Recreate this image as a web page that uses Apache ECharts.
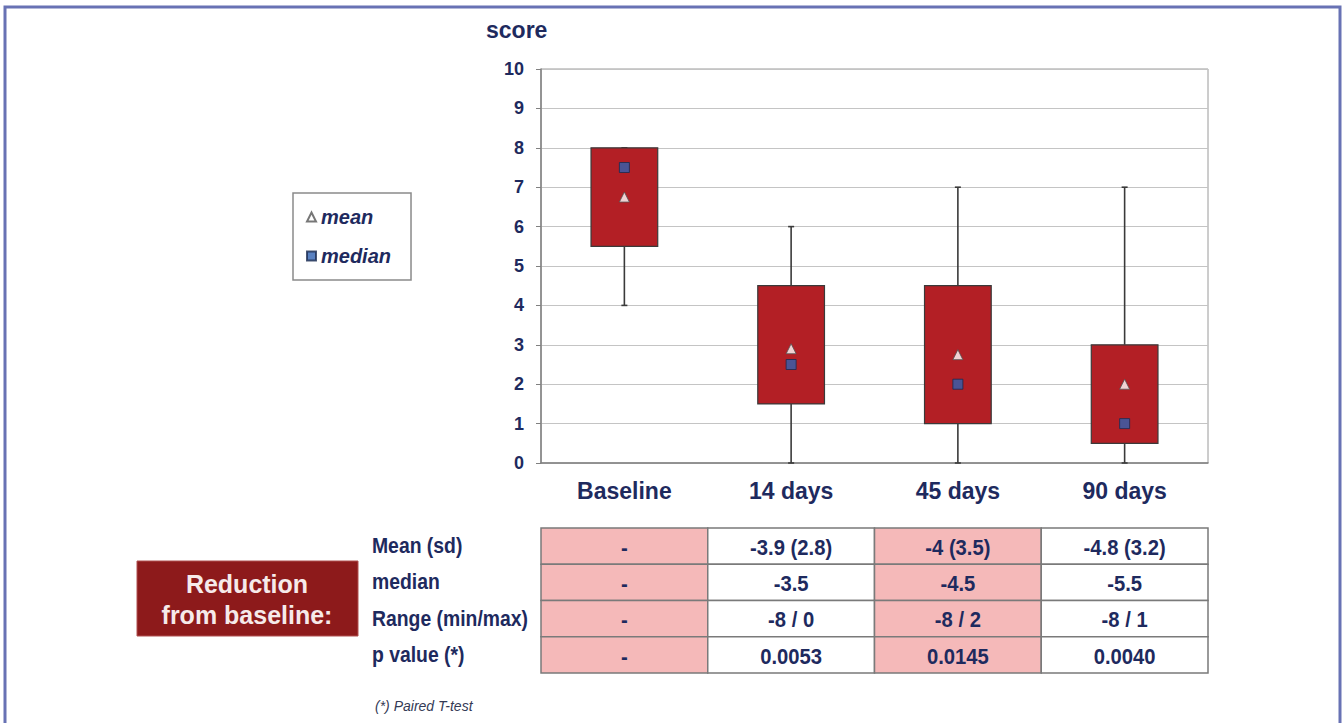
<!DOCTYPE html>
<html><head><meta charset="utf-8">
<script src="https://cdn.jsdelivr.net/npm/echarts@6/dist/echarts.min.js"></script>
<style>html,body{margin:0;padding:0;background:#fff;}#c{width:1344px;height:723px;}</style>
</head><body><div id="c"></div>
<script>
// ---- data ----
var categories = ['Baseline', '14 days', '45 days', '90 days'];
var boxMin    = [4, 0, 0, 0];
var boxQ1     = [5.5, 1.5, 1, 0.5];
var boxQ3     = [8, 4.5, 4.5, 3];
var boxMax    = [8, 6, 7, 7];
var meanVals  = [6.75, 2.9, 2.75, 2.0];
var medianVals= [7.5, 2.5, 2, 1];
var yTicks    = [0,1,2,3,4,5,6,7,8,9,10];
var rowLabels = ['Mean (sd)', 'median', 'Range (min/max)', 'p value (*)'];
var colMeanSd = ['-', '-3.9 (2.8)', '-4 (3.5)', '-4.8 (3.2)'];
var colMedian = ['-', '-3.5', '-4.5', '-5.5'];
var colRange  = ['-', '-8 / 0', '-8 / 2', '-8 / 1'];
var colP      = ['-', '0.0053', '0.0145', '0.0040'];

var NAVY = '#1e2a5e';
var SANS = '"Liberation Sans", Arial, sans-serif';

var boxData = categories.map(function(c, i){ return [i, boxMin[i], boxQ1[i], boxQ3[i], boxMax[i]]; });

var chart = echarts.init(document.getElementById('c'), null, {renderer: 'svg'});

var option = {
  animation: false,
  backgroundColor: '#fff',
  title: { text: 'score', left: 486, top: 18, padding: 0,
    textStyle: { color: NAVY, fontFamily: SANS, fontWeight: 'bold', fontSize: 23 } },
  grid: { left: 541, right: 136, top: 69, bottom: 260, show: true, borderColor: '#9a9a9a', borderWidth: 1, backgroundColor: 'transparent' },
  legend: {
    left: 293, top: 193, orient: 'vertical',
    padding: [14, 20, 14, 13], itemWidth: 9, itemHeight: 9, itemGap: 19,
    borderColor: '#8a8a8a', borderWidth: 1.5,
    data: ['mean', 'median'],
    textStyle: { color: NAVY, fontFamily: SANS, fontWeight: 'bold', fontStyle: 'italic', fontSize: 20 }
  },
  xAxis: {
    type: 'category', data: categories, boundaryGap: true,
    axisLine: { lineStyle: { color: '#808080', width: 1.5 } },
    axisTick: { show: false },
    axisLabel: { color: NAVY, fontFamily: SANS, fontWeight: 'bold', fontSize: 23, margin: 16 }
  },
  yAxis: {
    type: 'value', min: 0, max: 10, interval: 1,
    axisLine: { show: true, lineStyle: { color: '#808080', width: 1.5 } },
    axisTick: { show: true, length: 5, lineStyle: { color: '#808080' } },
    axisLabel: { color: NAVY, fontFamily: SANS, fontWeight: 'bold', fontSize: 18, margin: 17,
      formatter: function(v){ return yTicks.indexOf(v) >= 0 ? String(v) : ''; } },
    splitLine: { lineStyle: { color: '#c4c4c4', width: 1.2 } }
  },
  series: [
    {
      name: 'box', type: 'custom', data: boxData, z: 2,
      encode: { x: 0, y: [1, 2, 3, 4] },
      renderItem: function(params, api){
        var x = api.value(0);
        var pMin = api.coord([x, api.value(1)]);
        var pQ1 = api.coord([x, api.value(2)]);
        var pQ3 = api.coord([x, api.value(3)]);
        var pMax = api.coord([x, api.value(4)]);
        var bw = api.size([1, 0])[0] * 0.4;
        var cx = pQ1[0];
        var cap = 3;
        var wl = { stroke: '#3a3a3a', lineWidth: 1.6 };
        return { type: 'group', children: [
          { type: 'line', shape: { x1: cx, y1: pMin[1], x2: cx, y2: pQ1[1] }, style: wl },
          { type: 'line', shape: { x1: cx, y1: pQ3[1], x2: cx, y2: pMax[1] }, style: wl },
          { type: 'line', shape: { x1: cx - cap, y1: pMin[1], x2: cx + cap, y2: pMin[1] }, style: wl },
          { type: 'line', shape: { x1: cx - cap, y1: pMax[1], x2: cx + cap, y2: pMax[1] }, style: wl },
          { type: 'rect', shape: { x: cx - bw / 2, y: pQ3[1], width: bw, height: pQ1[1] - pQ3[1] },
            style: { fill: '#b31f25', stroke: '#3a3a3a', lineWidth: 1.2 } }
        ]};
      }
    },
    {
      name: 'mean', type: 'scatter', data: meanVals, symbol: 'triangle', symbolSize: 10, z: 5,
      itemStyle: { color: '#ffffff', borderColor: '#555555', borderWidth: 1 }
    },
    {
      name: 'median', type: 'scatter', data: medianVals, symbol: 'rect', symbolSize: 10, z: 5,
      itemStyle: { color: '#2f62b2', borderColor: '#1a2a50', borderWidth: 1 }
    }
  ]
};
chart.setOption(option);

// ---- table and decorations ----
var cols = [colMeanSd, colMedian, colRange, colP]; // rows
var gridLeft = 541, gridRight = 1208;
var colW = (gridRight - gridLeft) / categories.length;
var tableTop = 528, rowH = 36.25;
var graphics = [];
graphics.push({ type: 'rect', shape: { x: 5, y: 7, width: 1335, height: 740 },
  style: { fill: 'none', stroke: '#6872b4', lineWidth: 3 }, z: 100, silent: true });
for (var r = 0; r < rowLabels.length; r++) {
  var y = tableTop + r * rowH;
  graphics.push({ type: 'text', x: 372, y: y + rowH / 2 - 1, scaleX: 0.88,
    style: { text: rowLabels[r], fill: NAVY, font: 'bold 22px ' + SANS, textVerticalAlign: 'middle', textAlign: 'left' } });
  for (var c = 0; c < categories.length; c++) {
    var cx = chart.convertToPixel({ xAxisIndex: 0 }, categories[c]);
    var x0 = cx - colW / 2;
    graphics.push({ type: 'rect', shape: { x: x0, y: y, width: colW, height: rowH },
      style: { fill: (c % 2 === 0) ? '#f5b9b9' : '#ffffff', stroke: '#7a7a7a', lineWidth: 1.5 } });
    graphics.push({ type: 'text', x: cx, y: y + rowH / 2 + 1, scaleX: 0.92,
      style: { text: cols[r][c], fill: NAVY, font: 'bold 22px ' + SANS, textAlign: 'center', textVerticalAlign: 'middle' } });
  }
}
graphics.push({ type: 'rect', shape: { x: 137, y: 561, width: 221, height: 75 },
  style: { fill: '#8d1a1b', stroke: '#b05050', lineWidth: 1 } });
graphics.push({ type: 'text', x: 247, y: 584,
  style: { text: 'Reduction', fill: '#f6eaea', font: 'bold 25px ' + SANS, textAlign: 'center', textVerticalAlign: 'middle' } });
graphics.push({ type: 'text', x: 247, y: 615,
  style: { text: 'from baseline:', fill: '#f6eaea', font: 'bold 25px ' + SANS, textAlign: 'center', textVerticalAlign: 'middle' } });
graphics.push({ type: 'text', x: 375, y: 706,
  style: { text: '(*) Paired T-test', fill: '#333a55', font: 'italic 14px ' + SANS, textAlign: 'left', textVerticalAlign: 'middle' } });
chart.setOption({ graphic: graphics });
</script>
</body></html>
